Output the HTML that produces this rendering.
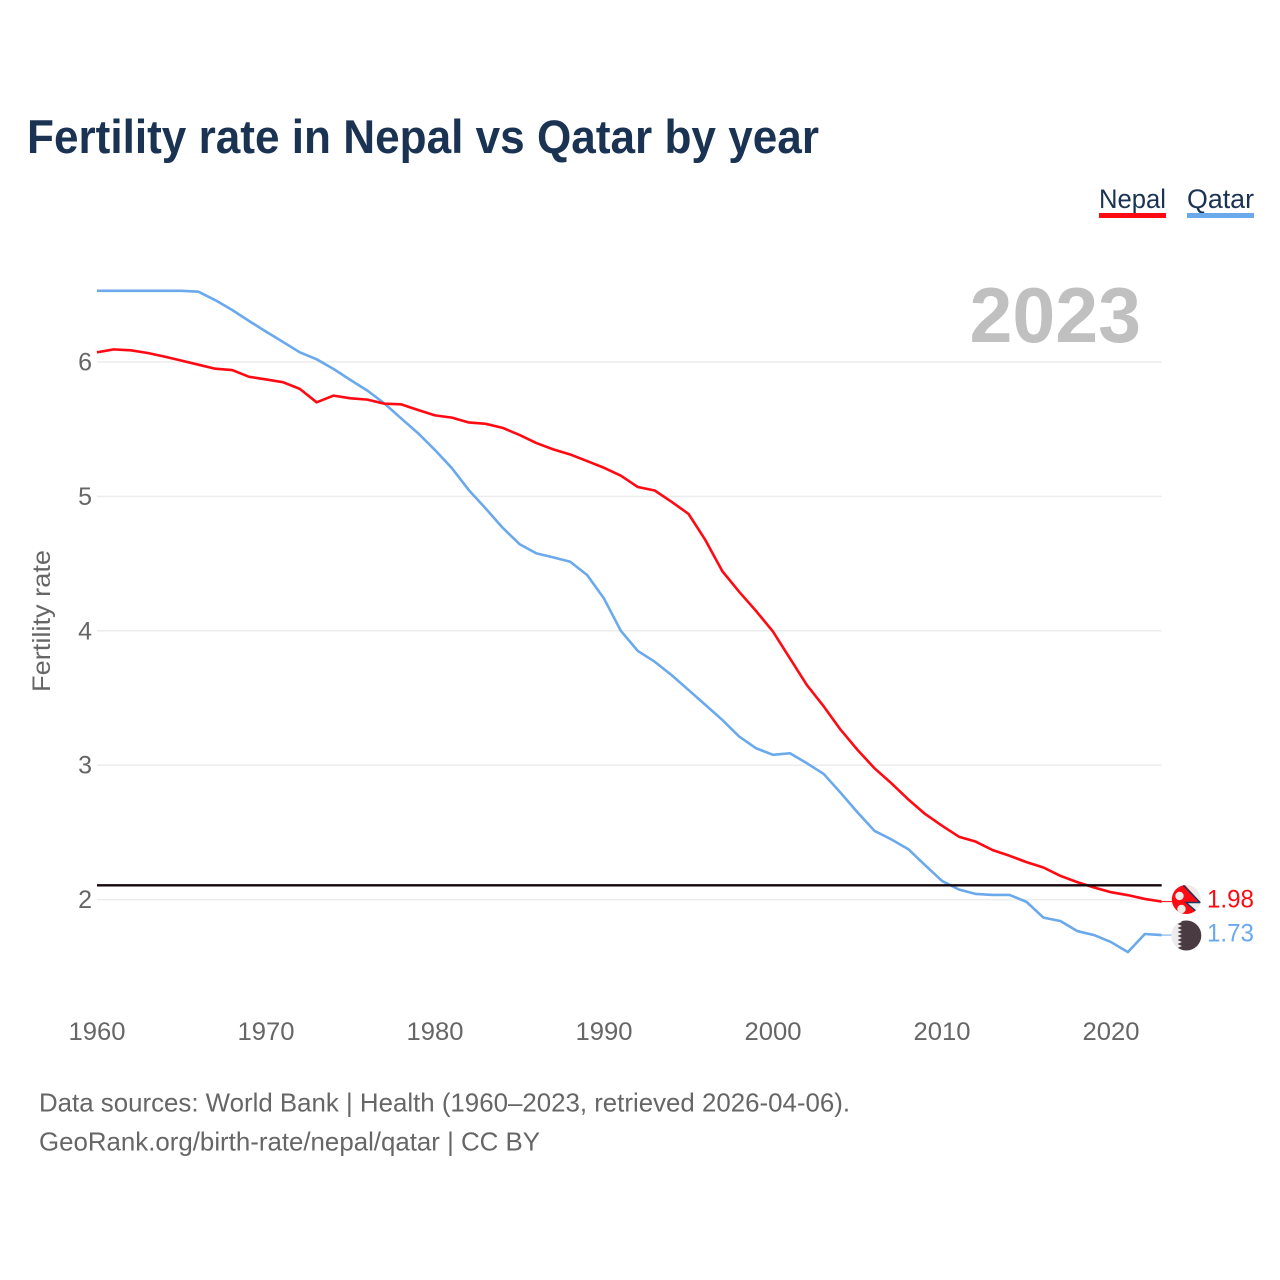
<!DOCTYPE html>
<html lang="en">
<head>
<meta charset="utf-8">
<title>Fertility rate in Nepal vs Qatar by year</title>
<style>
html,body{margin:0;padding:0;background:#fff;}
svg{display:block;font-family:"Liberation Sans",sans-serif;}
</style>
</head>
<body>
<svg id="chart" xmlns="http://www.w3.org/2000/svg" width="1280" height="1280" viewBox="0 0 1280 1280">
  <defs>
    <clipPath id="flag-clip-nepal"><circle cx="1186.3" cy="899.5" r="14.5"/></clipPath>
    <clipPath id="flag-clip-qatar"><circle cx="1186.3" cy="935.5" r="15"/></clipPath>
  </defs>
  <rect x="0" y="0" width="1280" height="1280" fill="#ffffff"/>
  <text x="27" y="153" font-size="47" font-weight="700" fill="#1a3353" textLength="792" lengthAdjust="spacingAndGlyphs">Fertility rate in Nepal vs Qatar by year</text>

  <g>
    <text x="1099" y="208" font-size="26.5" fill="#1a3353" textLength="67" lengthAdjust="spacingAndGlyphs">Nepal</text>
    <rect x="1099" y="213" width="67" height="5" fill="#ff0a12"/>
  </g>
  <g>
    <text x="1187" y="208" font-size="26.5" fill="#1a3353" textLength="67" lengthAdjust="spacingAndGlyphs">Qatar</text>
    <rect x="1187" y="213" width="67" height="5" fill="#6aa9ec"/>
  </g>

  <text x="969.5" y="342" font-size="78" font-weight="700" fill="#c0c0c0" textLength="171.5" lengthAdjust="spacingAndGlyphs">2023</text>
  <text transform="translate(50 692) rotate(-90)" x="0" y="0" font-size="25" fill="#666666" textLength="142" lengthAdjust="spacingAndGlyphs">Fertility rate</text>

  <g id="grid"></g>
  <g id="yticks"></g>
  <g id="xticks"></g>
  <g id="series"></g>

  <g>
    <circle cx="1186.3" cy="899.5" r="14.5" fill="#ececec"/>
    <g clip-path="url(#flag-clip-nepal)">
      <polygon points="1168,882 1182,882 1201,902.5 1186,902.5 1201,916 1201,920 1168,920" fill="#ff0a12"/>
      <polyline points="1183,885 1200,902.5 1186,902.5 1201,915.5" fill="none" stroke="#17375e" stroke-width="1.4"/>
      <circle cx="1179.5" cy="896" r="4.2" fill="#ececec"/>
      <circle cx="1181.5" cy="909" r="4.2" fill="#ececec"/>
    </g>
  </g>
  <g>
    <circle cx="1186.3" cy="935.5" r="15" fill="#ececec"/>
    <g clip-path="url(#flag-clip-qatar)">
      <polygon points="1182,918 1177.5,920 1182,922 1177.5,924 1182,926 1177.5,928 1182,930 1177.5,932 1182,934 1177.5,936 1182,938 1177.5,940 1182,942 1177.5,944 1182,946 1177.5,948 1182,950 1177.5,952 1182,954 1204,954 1204,918" fill="#4a3a42"/>
    </g>
  </g>

  <text x="1207" y="907.5" font-size="25" fill="#ff0a12" textLength="47" lengthAdjust="spacingAndGlyphs">1.98</text>
  <text x="1207" y="941.5" font-size="25" fill="#6aa9ec" textLength="47" lengthAdjust="spacingAndGlyphs">1.73</text>

  <text x="39" y="1111.5" font-size="26" fill="#666666" textLength="811" lengthAdjust="spacingAndGlyphs">Data sources: World Bank | Health (1960–2023, retrieved 2026-04-06).</text>
  <text x="39" y="1150.5" font-size="26" fill="#666666" textLength="501" lengthAdjust="spacingAndGlyphs">GeoRank.org/birth-rate/nepal/qatar | CC BY</text>
</svg>
<script>
const years = [1960,1961,1962,1963,1964,1965,1966,1967,1968,1969,1970,1971,1972,1973,1974,1975,1976,1977,1978,1979,1980,1981,1982,1983,1984,1985,1986,1987,1988,1989,1990,1991,1992,1993,1994,1995,1996,1997,1998,1999,2000,2001,2002,2003,2004,2005,2006,2007,2008,2009,2010,2011,2012,2013,2014,2015,2016,2017,2018,2019,2020,2021,2022,2023];
const nepalValues = [6.072,6.094,6.087,6.067,6.04,6.01,5.98,5.95,5.94,5.89,5.87,5.85,5.80,5.70,5.75,5.73,5.72,5.69,5.685,5.643,5.603,5.586,5.55,5.54,5.51,5.457,5.397,5.35,5.312,5.263,5.213,5.154,5.07,5.044,4.96,4.87,4.675,4.444,4.29,4.147,3.994,3.795,3.597,3.438,3.264,3.114,2.978,2.866,2.746,2.637,2.55,2.468,2.431,2.368,2.326,2.279,2.239,2.177,2.13,2.09,2.055,2.033,2.005,1.985];
const qatarValues = [6.53,6.53,6.53,6.53,6.53,6.53,6.523,6.46,6.387,6.305,6.226,6.15,6.072,6.02,5.948,5.866,5.787,5.692,5.58,5.47,5.345,5.21,5.047,4.91,4.767,4.645,4.576,4.546,4.514,4.415,4.24,3.999,3.85,3.77,3.67,3.56,3.449,3.337,3.213,3.126,3.077,3.089,3.015,2.935,2.795,2.649,2.512,2.448,2.376,2.256,2.139,2.075,2.042,2.035,2.035,1.983,1.866,1.841,1.766,1.736,1.684,1.609,1.744,1.736];
const yTickValues = [2,3,4,5,6];
const xTickValues = [1960,1970,1980,1990,2000,2010,2020];
const replacementRate = [2.106];

const NS = 'http://www.w3.org/2000/svg';
function xScale(year) { return 97 + (year - 1960) * 16.9; }
function yScale(value) { return 362 + (6 - value) * 134.4; }
function make(tag, parentId) {
  const el = document.createElementNS(NS, tag);
  document.getElementById(parentId).appendChild(el);
  return el;
}
function linePath(values) {
  return values.map(function (v, i) {
    return (i ? 'L' : 'M') + xScale(years[i]).toFixed(2) + ' ' + yScale(v).toFixed(2);
  }).join(' ');
}
const xEnd = xScale(years[years.length - 1]);

yTickValues.forEach(function (t) {
  const g = make('line', 'grid');
  
  
  g.setAttribute('x1', xScale(1960));
  g.setAttribute('x2', xEnd);
  g.setAttribute('y1', yScale(t));
  g.setAttribute('y2', yScale(t));
  g.setAttribute('stroke', '#ececec');
  g.setAttribute('stroke-width', '1.5');
  const lab = make('text', 'yticks');
  
  
  lab.setAttribute('x', 92);
  lab.setAttribute('y', yScale(t) + 8.5);
  lab.setAttribute('text-anchor', 'end');
  lab.setAttribute('font-size', '25');
  lab.setAttribute('fill', '#666666');
  lab.textContent = t;
});

xTickValues.forEach(function (t) {
  const lab = make('text', 'xticks');
  
  
  lab.setAttribute('x', xScale(t) - 28.5);
  lab.setAttribute('y', 1040);
  lab.setAttribute('font-size', '25');
  lab.setAttribute('fill', '#666666');
  lab.setAttribute('textLength', '57');
  lab.setAttribute('lengthAdjust', 'spacingAndGlyphs');
  lab.textContent = t;
});

const leaderNepal = make('line', 'series');


leaderNepal.setAttribute('x1', xEnd);
leaderNepal.setAttribute('x2', 1172);
leaderNepal.setAttribute('y1', yScale(nepalValues[nepalValues.length - 1]));
leaderNepal.setAttribute('y2', yScale(nepalValues[nepalValues.length - 1]));
leaderNepal.setAttribute('stroke', '#ff0a12');
leaderNepal.setAttribute('stroke-width', '1');

const leaderQatar = make('line', 'series');


leaderQatar.setAttribute('x1', xEnd);
leaderQatar.setAttribute('x2', 1172);
leaderQatar.setAttribute('y1', yScale(qatarValues[qatarValues.length - 1]));
leaderQatar.setAttribute('y2', yScale(qatarValues[qatarValues.length - 1]));
leaderQatar.setAttribute('stroke', '#6aa9ec');
leaderQatar.setAttribute('stroke-width', '1');

const lineQatar = make('path', 'series');


lineQatar.setAttribute('d', linePath(qatarValues));
lineQatar.setAttribute('fill', 'none');
lineQatar.setAttribute('stroke', '#6aa9ec');
lineQatar.setAttribute('stroke-width', '2.6');
lineQatar.setAttribute('stroke-linejoin', 'round');

const lineNepal = make('path', 'series');


lineNepal.setAttribute('d', linePath(nepalValues));
lineNepal.setAttribute('fill', 'none');
lineNepal.setAttribute('stroke', '#ff0a12');
lineNepal.setAttribute('stroke-width', '2.6');
lineNepal.setAttribute('stroke-linejoin', 'round');

const refLine = make('line', 'series');


refLine.setAttribute('x1', xScale(1960));
refLine.setAttribute('x2', xEnd);
refLine.setAttribute('y1', yScale(replacementRate[0]));
refLine.setAttribute('y2', yScale(replacementRate[0]));
refLine.setAttribute('stroke', '#14060c');
refLine.setAttribute('stroke-width', '2.4');
</script>
</body>
</html>
